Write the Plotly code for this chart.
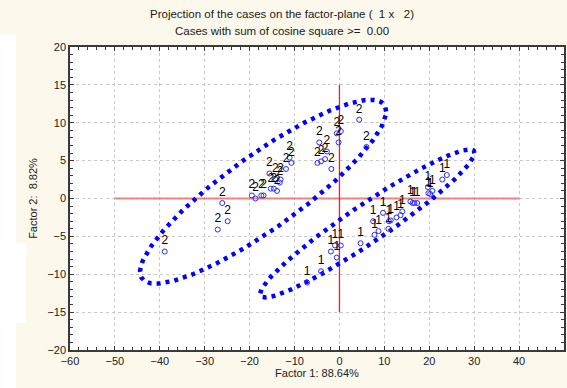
import numpy as np
import plotly.graph_objects as go

# Case coordinates on the factor plane (Factor 1, Factor 2), grouped by class
class2_f1 = [-38.9, -27.1, -24.9, -26.1, -19.5, -18.7, -17.4, -16.9, -15.6, -15.3,
             -14.6, -14.3, -13.9, -13.3, -13.1, -11.9, -11.1, -10.7, -4.9, -4.5,
             -4.1, -3.2, -2.8, -1.8, -0.6, -0.2, 0.3, 4.4, 6.0]
class2_f2 = [-7.0, -4.1, -3.0, -0.6, 0.4, 0.0, 0.4, 0.4, 3.3, 1.3,
             1.3, 2.6, 1.0, 2.1, 2.5, 3.9, 5.4, 4.7, 4.7, 7.4,
             4.9, 5.2, 6.2, 3.9, 8.6, 7.4, 8.9, 10.4, 6.8]

class1_f1 = [-7.2, -4.1, -1.9, -1.0, -0.6, 0.3, 4.7, 7.5, 7.8, 8.7,
             9.7, 10.9, 11.0, 11.4, 12.7, 13.6, 14.0, 15.8, 16.3, 16.7,
             17.3, 19.7, 19.8, 20.2, 20.7, 22.9, 23.9]
class1_f2 = [-11.1, -9.6, -7.0, -6.2, -7.8, -6.2, -5.9, -3.0, -4.8, -4.3,
             -1.9, -4.0, -3.0, -2.9, -2.5, -2.2, -1.7, -0.4, -0.6, -0.6,
             -0.6, 1.5, 0.7, 0.6, 1.0, 2.5, 3.1]

# Class ellipses: centre, and the cos/sin loadings of each coordinate
ellipse2 = dict(cx=-17.0, cy=0.9, ax=27.4, ay_cos=10.6, ay_sin=5.9)
ellipse1 = dict(cx=6.2, cy=-3.3, ax=23.9, ay_cos=9.3, ay_sin=3.0)

# Reference cross through the origin
h_line_x = [-50, 40]
v_line_y = [-15, 15]

x_ticks = list(range(-60, 51, 10))
y_ticks = list(range(-20, 21, 5))

CREAM = "#fcf8ec"
FONT = "Liberation Sans, Arial, sans-serif"


def ellipse_xy(e, n=400):
    t = np.linspace(0, 2 * np.pi, n)
    x = e["cx"] + e["ax"] * np.cos(t)
    y = e["cy"] + e["ay_cos"] * np.cos(t) + e["ay_sin"] * np.sin(t)
    return x, y


fig = go.Figure()

# Horizontal and vertical reference lines
fig.add_trace(go.Scatter(x=h_line_x, y=[0, 0], mode="lines",
                         line=dict(color="rgba(238,110,110,0.85)", width=2),
                         hoverinfo="skip", showlegend=False))
fig.add_trace(go.Scatter(x=[0, 0], y=v_line_y, mode="lines",
                         line=dict(color="#ff1a1a", width=1.3),
                         hoverinfo="skip", showlegend=False))

for e in (ellipse2, ellipse1):
    ex, ey = ellipse_xy(e)
    fig.add_trace(go.Scatter(x=ex, y=ey, mode="lines",
                             line=dict(color="#0000ff", width=4.5, dash="4px,5px"),
                             hoverinfo="skip", showlegend=False))

for xs, ys, lab in ((class2_f1, class2_f2, "2"), (class1_f1, class1_f2, "1")):
    fig.add_trace(go.Scatter(
        x=xs, y=ys, mode="markers+text", text=[lab] * len(xs),
        textposition="top center",
        textfont=dict(family=FONT, size=12, color="#000000"),
        marker=dict(symbol="circle-open", size=5, color="#2a2aff",
                    line=dict(width=1, color="#2a2aff")),
        showlegend=False))

axis_common = dict(
    showline=True, linecolor="#3a3a3a", linewidth=1.5, mirror="allticks",
    ticks="inside", ticklen=4, tickcolor="#3a3a3a", tickwidth=1,
    showgrid=True, gridcolor="#c8c8c8", griddash="dot", gridwidth=1,
    zeroline=False, tickfont=dict(family=FONT, size=11, color="#222222"),
)

fig.update_xaxes(range=[-60, 50], tickvals=x_ticks,
                 minor=dict(dtick=2, ticks="inside", ticklen=3, tickcolor="#3a3a3a",
                            showgrid=False),
                 title=dict(text="Factor 1: 88.64%", standoff=2,
                            font=dict(family=FONT, size=11, color="#222222")),
                 **axis_common)
fig.update_yaxes(range=[-20, 20], tickvals=y_ticks,
                 minor=dict(dtick=1, ticks="inside", ticklen=3, tickcolor="#3a3a3a",
                            showgrid=False),
                 title=dict(text="Factor 2:  8.82%", standoff=8,
                            font=dict(family=FONT, size=11, color="#222222")),
                 **axis_common)

# Page frame: cream background with a white margin strip on the left
fig.update_layout(
    shapes=[
        dict(type="rect", xref="paper", yref="paper", layer="below",
             x0=-70 / 496, x1=-54 / 496, y0=-38 / 303, y1=1.04,
             fillcolor="white", line=dict(width=0)),
        dict(type="rect", xref="paper", yref="paper", layer="below",
             x0=-70 / 496, x1=-44 / 496, y0=(350 - 323) / 303, y1=(350 - 243) / 303,
             fillcolor="white", line=dict(width=0)),
    ],
    annotations=[
        dict(text="Projection of the cases on the factor-plane (  1 x   2)",
             xref="paper", yref="paper", x=(283 - 70) / 496, y=(350 - 14) / 303,
             showarrow=False, xanchor="center", yanchor="middle",
             font=dict(family=FONT, size=11.5, color="#1a1a1a")),
        dict(text="Cases with sum of cosine square >=  0.00",
             xref="paper", yref="paper", x=(283 - 70) / 496, y=(350 - 31) / 303,
             showarrow=False, xanchor="center", yanchor="middle",
             font=dict(family=FONT, size=11.5, color="#1a1a1a")),
    ],
    width=567, height=388,
    margin=dict(l=70, r=1, t=47, b=38),
    paper_bgcolor=CREAM, plot_bgcolor="white",
    showlegend=False,
)

fig.write_html("out.html")
